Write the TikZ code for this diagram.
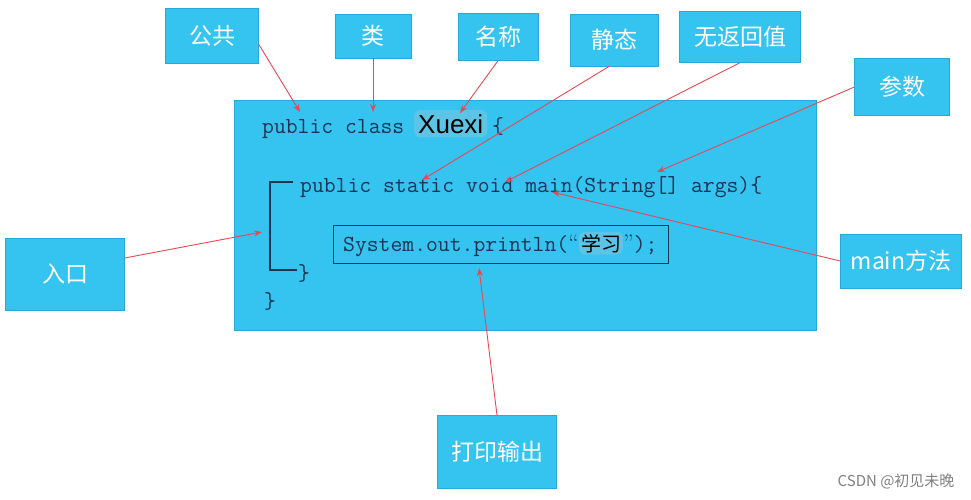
\documentclass[tikz,border=0pt]{standalone}
\usepackage{fontspec}
\usepackage{xcolor}
\newfontfamily\cjk{Noto Sans CJK SC}
\newfontfamily\namefont{Liberation Sans}
\usetikzlibrary{positioning,arrows.meta}

\definecolor{boxblue}{RGB}{53,195,240}
\definecolor{edgeblue}{RGB}{38,168,218}
\definecolor{codeink}{RGB}{28,52,84}
\definecolor{arrowred}{RGB}{232,72,82}
\definecolor{markblue}{RGB}{92,196,228}

\tikzset{
  tagbox/.style={draw=edgeblue, fill=boxblue, text=white, inner sep=0pt,
    font=\cjk\fontsize{23}{27}\selectfont},
  code/.style={font=\ttfamily\fontsize{23}{27}\selectfont, text=codeink,
    inner sep=0pt, anchor=base west},
  marked/.style={fill=markblue, rounded corners=6pt, text=black, inner sep=4pt},
  pointer/.style={draw=arrowred, line width=0.9pt, -{Stealth[length=8pt,width=6pt]}}
}

\begin{document}
\begin{tikzpicture}[x=1pt,y=-1pt]
\useasboundingbox (0,0) rectangle (971,499);

% the class body
\node[fill=boxblue, draw=edgeblue, minimum width=582, minimum height=230, anchor=north west] (classbox) at (234,100) {};

\node[code] (clsline) at (262,133) {public class};
\node[marked, font=\namefont\fontsize{26}{30}\selectfont, anchor=base west] (xuexi) at (414,133) {Xuexi};
\node[code] (open1) at (492,133) {\{};

\node[code] (mainline) at (300,192) {public static void main(String[] args)\{};
\draw[codeink, line width=1.2pt] (293,182) -- (270,182) -- (270,270) -- (297,270);

\node[draw=codeink, line width=1pt, minimum width=335, minimum height=38, anchor=north west] (printbox) at (333,225) {};
\node[code] (println) at (343,251) {System.out.println({\rmfamily\fontsize{24}{28}\selectfont “}};
\node[marked, font=\cjk\fontsize{20}{24}\selectfont, inner sep=2pt, anchor=base west] (xuexi2) at (println.base east) {学习};
\node[code] (close0) at (xuexi2.base east) {{\rmfamily\fontsize{24}{28}\selectfont ”}); };

\node[code] (close1) at (298,280) {\}};
\node[code] (close2) at (264,308) {\}};

% labels
\node[tagbox, minimum width=93, minimum height=55] (gonggong) at (212,36) {公共};
\node[tagbox, minimum width=76, minimum height=44] (lei) at (373,36) {类};
\node[tagbox, minimum width=80, minimum height=47] (mingcheng) at (498,37) {名称};
\node[tagbox, minimum width=88, minimum height=52] (jingtai) at (614,40) {静态};
\node[tagbox, minimum width=121, minimum height=51] (wufanhui) at (740,37) {无返回值};
\node[tagbox, minimum width=95, minimum height=57] (canshu) at (902,87) {参数};
\node[tagbox, minimum width=119, minimum height=72] (rukou) at (65,274) {入口};
\node[tagbox, minimum width=121, minimum height=54] (mainff) at (901,261) {main方法};
\node[tagbox, minimum width=119, minimum height=73] (dayin) at (497,452) {打印输出};

\node[text=gray, font=\cjk\fontsize{15}{18}\selectfont, anchor=east] (mark) at (958,481) {CSDN @初见未晚};

% pointers
\coordinate (pubtip) at (300,112);
\coordinate (clstip) at (373,112);
\coordinate (nametip) at (460,113);
\coordinate (statictip) at (422,180);
\coordinate (voidtip) at (505,182);
\coordinate (argstip) at (657,172);
\coordinate (maintip) at (552,192);
\coordinate (entrytip) at (262,232);
\coordinate (printtip) at (479,268);

\draw[pointer] (gonggong.-10) -- (pubtip);
\draw[pointer] (lei.south) -- (clstip);
\draw[pointer] (mingcheng.south) -- (nametip);
\draw[pointer] (jingtai.-100) -- (statictip);
\draw[pointer] (wufanhui.south) -- (voidtip);
\draw[pointer] (canshu.west) -- (argstip);
\draw[pointer] (mainff.west) -- (maintip);
\draw[pointer] (rukou.15) -- (entrytip);
\draw[pointer] (dayin.north) -- (printtip);
\end{tikzpicture}
\end{document}
